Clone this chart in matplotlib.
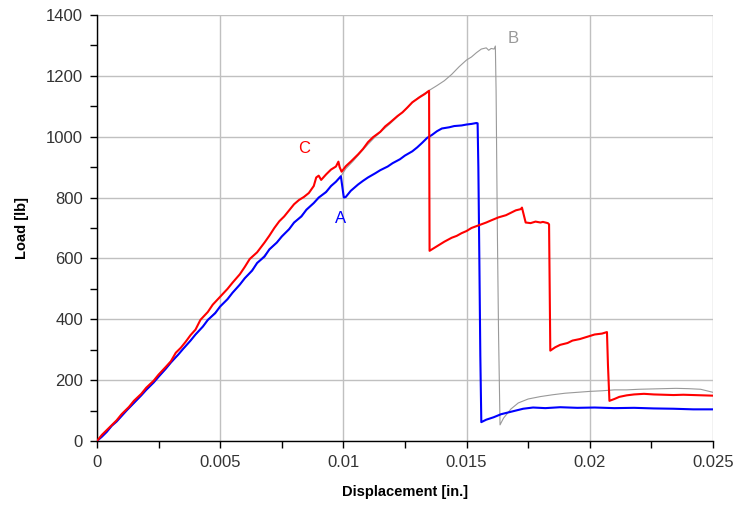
import matplotlib.pyplot as plt
from matplotlib.ticker import MultipleLocator, FuncFormatter

plt.rcParams['font.family'] = ['Liberation Sans', 'DejaVu Sans']

# specimen A (blue)
a_disp = [0, 0.0002, 0.0004, 0.0006, 0.0008, 0.0010, 0.0012, 0.0015, 0.0018, 0.0020,
          0.0023, 0.0025, 0.0028, 0.0030, 0.0033, 0.0035, 0.0038, 0.0040, 0.0043, 0.0045,
          0.0048, 0.0050, 0.0053, 0.0055, 0.0058, 0.0060, 0.0063, 0.0065, 0.0068, 0.0070,
          0.0073, 0.0075, 0.0078, 0.0080, 0.0083, 0.0085, 0.0088, 0.0090, 0.0093, 0.0095,
          0.0097, 0.0099, 0.01002, 0.0101, 0.0103, 0.0106, 0.0108, 0.0110, 0.0113, 0.0115,
          0.0118, 0.0120, 0.0123, 0.0125, 0.0128, 0.0130, 0.0132, 0.0134, 0.0136, 0.0138,
          0.0140, 0.0143, 0.0145, 0.0148, 0.0150, 0.0152, 0.0154, 0.01545, 0.01548, 0.01552,
          0.01556, 0.0156, 0.0158, 0.0161, 0.0164, 0.0167, 0.0170, 0.0173, 0.0177, 0.0182,
          0.0188, 0.0195, 0.0202, 0.0210, 0.0218, 0.0226, 0.0234, 0.0242, 0.0250]
a_load = [0, 14, 30, 50, 64, 82, 100, 125, 150, 168,
          192, 211, 238, 258, 284, 303, 330, 350, 376, 398,
          420, 442, 466, 487, 514, 535, 560, 585, 606, 630,
          652, 672, 696, 718, 738, 760, 782, 800, 818, 838,
          852, 870, 800, 802, 822, 843, 855, 866, 880, 890,
          902, 913, 926, 938, 952, 965, 980, 996, 1006, 1018,
          1027, 1031, 1035, 1037, 1040, 1042, 1045, 1044, 900, 600,
          280, 62, 70, 78, 88, 94, 100, 106, 110, 108,
          111, 109, 110, 108, 109, 107, 106, 104, 104]

# specimen B (grey)
b_disp = [0, 0.0005, 0.0010, 0.0015, 0.0020, 0.0025, 0.0030, 0.0035, 0.0040, 0.0045,
          0.0050, 0.0055, 0.0060, 0.0065, 0.0070, 0.0075, 0.0080, 0.0085, 0.0090, 0.0095,
          0.0099, 0.0101, 0.0104, 0.0107, 0.0110, 0.0113, 0.0116, 0.0119, 0.0122, 0.0125,
          0.0128, 0.0131, 0.0135, 0.0138, 0.0141, 0.0144, 0.0147, 0.0150, 0.0152, 0.0154,
          0.0156, 0.0158, 0.0159, 0.0160, 0.01612, 0.01617, 0.0162, 0.01625, 0.0163, 0.01636,
          0.0165, 0.0168, 0.0171, 0.0175, 0.0180, 0.0185, 0.0190, 0.0195, 0.0200, 0.0205,
          0.0210, 0.0215, 0.0220, 0.0225, 0.0230, 0.0235, 0.0240, 0.0245, 0.0248, 0.0250]
b_load = [0, 40, 82, 124, 167, 210, 256, 302, 349, 396,
          441, 486, 533, 583, 628, 670, 716, 758, 798, 836,
          870, 895, 920, 948, 975, 1000, 1022, 1043, 1066, 1088,
          1113, 1132, 1153, 1168, 1184, 1205, 1230, 1252, 1262, 1276,
          1288, 1292, 1284, 1290, 1288, 1298, 1150, 700, 350, 53,
          75, 105, 125, 138, 146, 152, 157, 160, 163, 165,
          168, 168, 170, 171, 172, 173, 172, 170, 164, 160]

# specimen C (red)
c_disp = [0, 0.0002, 0.0004, 0.0006, 0.0008, 0.0010, 0.0013, 0.0015, 0.0018, 0.0020,
          0.0023, 0.0025, 0.0028, 0.0030, 0.0032, 0.0034, 0.0036, 0.0038, 0.0040, 0.0042,
          0.0045, 0.0047, 0.0050, 0.0053, 0.0055, 0.0058, 0.0060, 0.0062, 0.0065, 0.0068,
          0.0070, 0.0072, 0.0074, 0.0076, 0.0078, 0.0080, 0.0082, 0.0084, 0.0086, 0.0088,
          0.0089, 0.0090, 0.0091, 0.0093, 0.0095, 0.0097, 0.0098, 0.00985, 0.00993, 0.0101,
          0.0103, 0.0106, 0.0108, 0.0110, 0.0112, 0.0115, 0.0117, 0.0119, 0.0122, 0.0124,
          0.0126, 0.0128, 0.0131, 0.0133, 0.0134, 0.01348, 0.01350, 0.0138, 0.0141, 0.0144,
          0.0146, 0.0148, 0.0150, 0.0152, 0.0154, 0.0156, 0.0158, 0.0160, 0.0163, 0.0166,
          0.0168, 0.0170, 0.0172, 0.01725, 0.0174, 0.0176, 0.0178, 0.0180, 0.0181, 0.0183,
          0.01835, 0.0184, 0.0186, 0.0188, 0.0191, 0.0193, 0.0196, 0.0198, 0.0200, 0.0202,
          0.0205, 0.0207, 0.02074, 0.0208, 0.0210, 0.0212, 0.0215, 0.0218, 0.0222, 0.0226,
          0.0230, 0.0234, 0.0238, 0.0242, 0.0246, 0.0250]
c_load = [0, 20, 36, 52, 68, 88, 112, 132, 155, 175,
          198, 218, 244, 262, 290, 306, 326, 348, 366, 398,
          424, 448, 474, 500, 520, 548, 572, 598, 620, 652,
          675, 700, 722, 738, 758, 778, 792, 802, 815, 838,
          866, 872, 858, 876, 892, 902, 918, 900, 885, 903,
          918, 942, 960, 982, 998, 1016, 1034, 1047, 1068, 1080,
          1096, 1113, 1130, 1140, 1146, 1151, 625, 640, 655, 668,
          674, 683, 690, 700, 706, 712, 718, 725, 735, 742,
          750, 758, 762, 767, 718, 716, 721, 718, 720, 716,
          712, 297, 308, 316, 322, 330, 335, 340, 345, 350,
          353, 358, 250, 132, 138, 145, 150, 153, 155, 153,
          152, 151, 152, 151, 150, 149]

fig = plt.figure(figsize=(7.4, 5.15), dpi=100)
ax = fig.add_axes([0.131, 0.1437, 0.8324, 0.8272])

ax.plot(b_disp, b_load, color='#999999', lw=0.8, zorder=3)
ax.plot(a_disp, a_load, color='#0000ff', lw=1.5, zorder=4)
ax.plot(c_disp, c_load, color='#ff0000', lw=1.5, zorder=5)

ax.text(0.0084, 960, 'C', color='#ff0000', fontsize=12, ha='center', va='center')
ax.text(0.0099, 730, 'A', color='#0000ff', fontsize=12, ha='center', va='center')
ax.text(0.0169, 1324, 'B', color='#999999', fontsize=12, ha='center', va='center')

ax.set_xlim(0, 0.025)
ax.set_ylim(0, 1400)
ax.xaxis.set_major_locator(MultipleLocator(0.005))
ax.xaxis.set_minor_locator(MultipleLocator(0.0025))
ax.yaxis.set_major_locator(MultipleLocator(200))
ax.yaxis.set_minor_locator(MultipleLocator(100))
ax.xaxis.set_major_formatter(FuncFormatter(lambda v, p: ('%.3f' % v).rstrip('0').rstrip('.')))

ax.grid(True, which='major', color='#c0c0c0', lw=1)
ax.set_axisbelow(True)
for s in ['top', 'right']:
    ax.spines[s].set_visible(False)
for s in ['left', 'bottom']:
    ax.spines[s].set_color('black')
    ax.spines[s].set_linewidth(1)
ax.tick_params(which='both', direction='out', length=5, width=1, color='black')
ax.tick_params(labelsize=12, labelcolor='#333333', pad=5)

ax.set_xlabel('Displacement [in.]', fontsize=10.5, fontweight='bold', labelpad=11)
ax.set_ylabel('Load [lb]', fontsize=10.5, fontweight='bold', labelpad=12)

fig.savefig('out.png', dpi=100, facecolor='white')
